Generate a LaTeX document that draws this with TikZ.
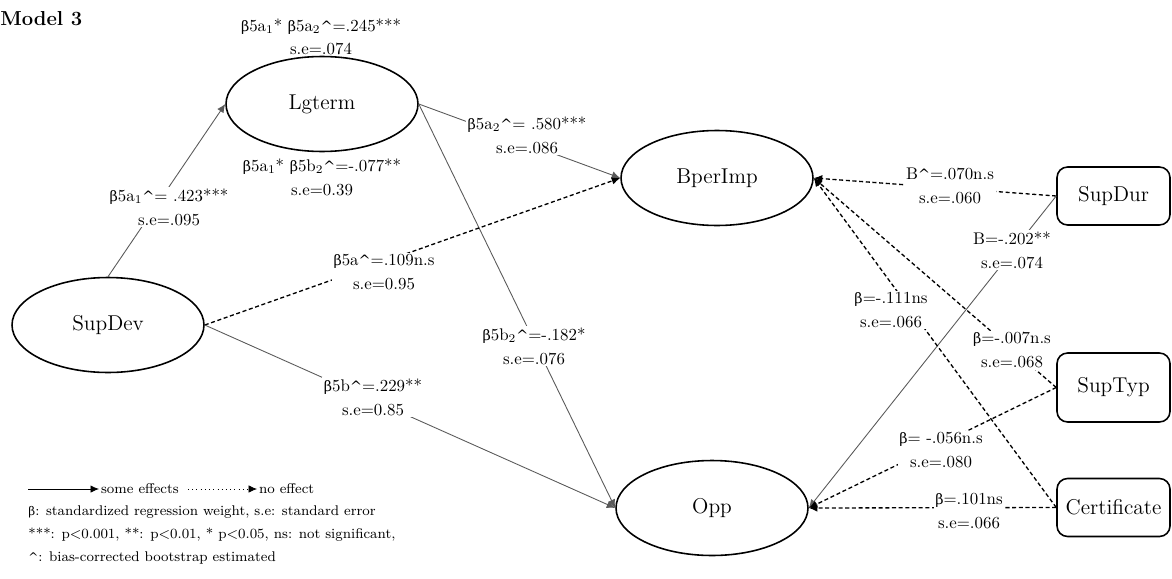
\documentclass[tikz,border=0pt]{standalone}
\usepackage{fontspec}
\newfontfamily\grk{DejaVu Serif}[Scale=0.85]
\usetikzlibrary{arrows.meta,shapes.geometric}

\newcommand{\hatc}{{\grk\textasciicircum}}
\newcommand{\bta}{{\grk β}}

\begin{document}
\begin{tikzpicture}[
x=0.02cm, y=-0.02cm,
latent/.style={draw, ellipse, line width=0.9pt, minimum width=3.84cm, minimum height=1.9cm, inner sep=0pt, font=\fontsize{12.2}{14}\selectfont},
observed/.style={draw, rounded corners=6pt, line width=0.9pt, minimum width=2.26cm, minimum height=1.16cm, inner sep=0pt, font=\fontsize{12.2}{14}\selectfont},
coef/.style={fill=white, align=center, inner sep=1pt, font=\fontsize{9.6}{13.5}\selectfont},
keytext/.style={anchor=west, inner sep=1pt, font=\fontsize{8}{13}\selectfont},
effect/.style={-{Latex[length=1.7mm,width=1.5mm]}, line width=0.5pt, draw=black!65},
noeffect/.style={-{Latex[length=1.7mm,width=1.5mm]}, line width=0.75pt, dash pattern=on 2.3pt off 1.5pt}
]
\useasboundingbox (0,0) rectangle (1172,578);

\node[font=\bfseries\fontsize{11.5}{14}\selectfont, anchor=west, inner sep=0pt] (title) at (0,19) {Model 3};

\node[latent] (supdev) at (108,325) {SupDev};
\node[latent] (lgterm) at (322,104) {Lgterm};
\node[latent] (bperimp) at (717,178) {BperImp};
\node[latent] (opp) at (712,508) {Opp};
\node[observed] (supdur) at (1113.5,196) {SupDur};
\node[observed, minimum height=1.38cm] (suptyp) at (1113.5,387.5) {SupTyp};
\node[observed] (certificate) at (1113.5,507.5) {Certificate};

\draw[effect] (supdev.north) -- (lgterm.west);
\draw[effect] (lgterm.east) -- (bperimp.west);
\draw[effect] (lgterm.east) -- (opp.west);
\draw[noeffect] (supdev.east) -- (bperimp.west);
\draw[effect] (supdev.east) -- (opp.west);
\draw[noeffect] (supdur.west) -- (bperimp.east);
\draw[effect] (supdur.west) -- (opp.east);
\draw[noeffect] (suptyp.west) -- (bperimp.east);
\draw[noeffect] (suptyp.west) -- (opp.east);
\draw[noeffect] (certificate.west) -- (bperimp.east);
\draw[noeffect] (certificate.west) -- (opp.east);

\node[coef, fill=none] (indlg) at (321,37) {\bta5a\textsubscript{1}* \bta5a\textsubscript{2}\hatc=.245***\\s.e=.074};
\node[coef, fill=none] (indop) at (322,177) {\bta5a\textsubscript{1}* \bta5b\textsubscript{2}\hatc=-.077**\\s.e=0.39};
\node[coef] (c1) at (169,207) {\bta5a\textsubscript{1}\hatc= .423***\\s.e=.095};
\node[coef] (c2) at (527,135) {\bta5a\textsubscript{2}\hatc= .580***\\s.e=.086};
\node[coef] (c3) at (384,272) {\bta5a\hatc=.109n.s\\s.e=0.95};
\node[coef] (c4) at (373,397) {\bta5b\hatc=.229**\\s.e=0.85};
\node[coef] (c5) at (534,346) {\bta5b\textsubscript{2}\hatc=-.182*\\s.e=.076};
\node[coef] (c6) at (950,186) {B\hatc=.070n.s\\s.e=.060};
\node[coef] (c7) at (1012,250) {B=-.202**\\s.e=.074};
\node[coef] (c8) at (891,310) {\bta=-.111ns\\s.e=.066};
\node[coef] (c9) at (1012,350) {\bta=-.007n.s\\s.e=.068};
\node[coef] (c10) at (941,450) {\bta= -.056n.s\\s.e=.080};
\node[coef] (c11) at (969,511) {\bta=.101ns\\s.e=.066};

\node[keytext] (keyeff) at (99,489) {some effects};
\node[keytext] (keynoeff) at (257,489) {no effect};
\coordinate (keya) at (28,489);
\coordinate (keyb) at (188,489);
\draw[effect, draw=black] (keya) -- (keyeff.west);
\draw[-{Latex[length=1.7mm,width=1.5mm]}, dotted, line width=0.4pt] (keyb) -- (keynoeff.west);
\node[keytext, align=left, inner sep=0pt] (notes) at (28,535) {\bta: standardized regression weight, s.e: standard error\\***: p<0.001, **: p<0.01, * p<0.05, ns: not significant,\\\hatc: bias-corrected bootstrap estimated};
\end{tikzpicture}
\end{document}
